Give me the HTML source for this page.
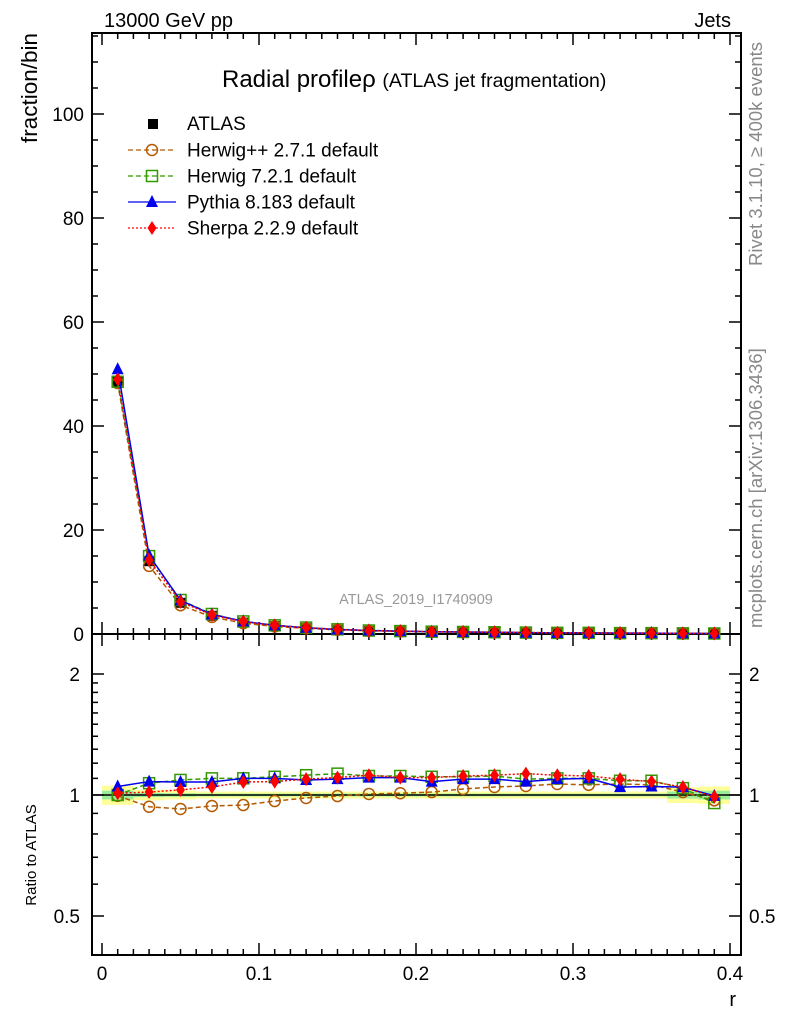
<!DOCTYPE html>
<html><head><meta charset="utf-8"><style>
body{margin:0;background:#fff;}
svg{display:block;font-family:"Liberation Sans",sans-serif;}
</style></head><body>
<svg id="c" width="786" height="1024" viewBox="0 0 786 1024" xmlns="http://www.w3.org/2000/svg"></svg>
<script>
const xs=[0.01,0.03,0.05,0.07,0.09,0.11,0.13,0.15,0.17,0.19,0.21,0.23,0.25,0.27,0.29,0.31,0.33,0.35,0.37,0.39];
const atlas=[48.5,14,6,3.5,2.2,1.5,1.1,0.8,0.6,0.5,0.4,0.35,0.3,0.25,0.2,0.2,0.15,0.15,0.12,0.1];
const bandY=[0.055,0.03,0.025,0.02,0.02,0.02,0.02,0.02,0.02,0.02,0.02,0.02,0.02,0.02,0.02,0.02,0.02,0.02,0.045,0.05];
const bandG=[0.025,0.012,0.01,0.008,0.008,0.008,0.008,0.008,0.008,0.008,0.008,0.008,0.008,0.008,0.008,0.008,0.008,0.008,0.02,0.025];
const rHpp=[0.995,0.935,0.923,0.939,0.944,0.966,0.983,0.994,1.006,1.01,1.017,1.035,1.047,1.053,1.065,1.06,1.065,1.06,1.017,0.97];
const rH7=[1.0,1.07,1.09,1.10,1.10,1.11,1.12,1.13,1.115,1.115,1.11,1.11,1.115,1.095,1.10,1.10,1.085,1.085,1.04,0.955];
const rPy=[1.05,1.08,1.077,1.077,1.10,1.10,1.09,1.095,1.105,1.105,1.08,1.095,1.095,1.08,1.095,1.10,1.046,1.05,1.046,0.995];
const rSh=[1.01,1.017,1.03,1.047,1.077,1.08,1.095,1.105,1.12,1.105,1.105,1.115,1.12,1.13,1.12,1.115,1.095,1.08,1.046,0.99];
const yTicks=[0,20,40,60,80,100];
const rTicks=[0.5,1,2];
const xTicks=[0,0.1,0.2,0.3,0.4];

const L=92,R=741,T=33,MB=634,RB=955;
const X=v=>102+v*1570;
const Y=v=>634-v*5.2;
const RY=v=>795-121*Math.log2(v);
const svg=document.getElementById('c');
const NS='http://www.w3.org/2000/svg';
function el(tag,attrs,parent,text){const e=document.createElementNS(NS,tag);for(const k in attrs)e.setAttribute(k,attrs[k]);if(text!==undefined)e.textContent=text;(parent||svg).appendChild(e);return e;}
function g(name){const e=el('g',{});return e;}

const bands=g('ratio-uncertainty-band');
xs.forEach((x,i)=>{
  el('rect',{x:X(x-0.01),y:RY(1+bandY[i]),width:X(0.02)-X(0),height:RY(1-bandY[i])-RY(1+bandY[i]),fill:'#ffff99'},bands);
  el('rect',{x:X(x-0.01),y:RY(1+bandG[i]),width:X(0.02)-X(0),height:RY(1-bandG[i])-RY(1+bandG[i]),fill:'#99ee99'},bands);
});
el('line',{x1:L,x2:R,y1:RY(1),y2:RY(1),stroke:'#000','stroke-width':1.5},bands);

const fr=g('plot-frames');
el('rect',{x:L,y:T,width:R-L,height:MB-T,fill:'none',stroke:'#000','stroke-width':2},fr);
el('rect',{x:L,y:MB,width:R-L,height:RB-MB,fill:'none',stroke:'#000','stroke-width':2},fr);

const ya=g('y-axis');
for(let v=0;v<=115;v+=5){const maj=v%20==0;const y=Y(v);
 el('line',{x1:L,x2:L+(maj?12:6),y1:y,y2:y,stroke:'#000','stroke-width':1.5},ya);
 el('line',{x1:R,x2:R-(maj?12:6),y1:y,y2:y,stroke:'#000','stroke-width':1.5},ya);}
yTicks.forEach(v=>{const t=el('text',{x:L-8,y:Y(v)+7,'text-anchor':'end','font-size':19},ya,String(v));});
const yt=el('text',{x:0,y:0,transform:'translate(37,33) rotate(-90)','text-anchor':'end','font-size':22.5},ya,'fraction/bin');


const ra=g('ratio-y-axis');
[0.4,0.5,0.6,0.7,0.8,0.9,1,1.1,1.2,1.3,1.4,1.5,1.6,1.7,1.8,1.9,2].forEach(v=>{const y=RY(v);if(y>RB||y<MB)return;const maj=[0.5,1,2].includes(v);
 el('line',{x1:L,x2:L+(maj?12:6),y1:y,y2:y,stroke:'#000','stroke-width':1.5},ra);
 el('line',{x1:R,x2:R-(maj?12:6),y1:y,y2:y,stroke:'#000','stroke-width':1.5},ra);});
rTicks.forEach(v=>{el('text',{x:L-12,y:RY(v)+7,'text-anchor':'end','font-size':19},ra,String(v));el('text',{x:R+8,y:RY(v)+7,'font-size':19},ra,String(v));});
const rt=el('text',{x:0,y:0,transform:'translate(36,855) rotate(-90)','text-anchor':'middle','font-size':15},ra,'Ratio to ATLAS');


const xa=g('x-axis');
for(let i=0;i<=40;i++){const v=i/100;const maj=i%10==0;const x=X(v);
 el('line',{x1:x,x2:x,y1:MB,y2:MB-(maj?12:6),stroke:'#000','stroke-width':1.5},xa);
 el('line',{x1:x,x2:x,y1:MB,y2:MB+(maj?12:6),stroke:'#000','stroke-width':1.5},xa);
 el('line',{x1:x,x2:x,y1:RB,y2:RB-(maj?12:6),stroke:'#000','stroke-width':1.5},xa);
 el('line',{x1:x,x2:x,y1:T,y2:T+(maj?12:6),stroke:'#000','stroke-width':1.5},xa);}
xTicks.forEach(v=>el('text',{x:X(v),y:980,'text-anchor':'middle','font-size':19},xa,String(v)));
const xt=el('text',{x:736,y:1006,'text-anchor':'end','font-size':20},xa,'r');


function marker(p,type,x,y,c){
 if(type=='sq')el('rect',{x:x-5,y:y-5,width:10,height:10,fill:'#000'},p);
 if(type=='circ')el('circle',{cx:x,cy:y,r:5.5,fill:'none',stroke:c,'stroke-width':1.5},p);
 if(type=='osq')el('rect',{x:x-5.5,y:y-5.5,width:11,height:11,fill:'none',stroke:c,'stroke-width':1.5},p);
 if(type=='tri')el('polygon',{points:`${x},${y-7} ${x-6},${y+5} ${x+6},${y+5}`,fill:c},p);
 if(type=='dia')el('polygon',{points:`${x},${y-7} ${x-4.5},${y} ${x},${y+7} ${x+4.5},${y}`,fill:c},p);
}
const series=[
 {n:'herwigpp',r:rHpp,c:'#b35900',m:'circ',d:'5,3',lab:'Herwig++ 2.7.1 default'},
 {n:'herwig7',r:rH7,c:'#339900',m:'osq',d:'5,3',lab:'Herwig 7.2.1 default'},
 {n:'pythia',r:rPy,c:'#0000ee',m:'tri',d:'',lab:'Pythia 8.183 default'},
 {n:'sherpa',r:rSh,c:'#ff0000',m:'dia',d:'2,2',lab:'Sherpa 2.2.9 default'}];
const data=g('series-atlas');
xs.forEach((x,i)=>marker(data,'sq',X(x),Y(atlas[i])));
series.forEach(s=>{
 const p=g('series-'+s.n);
 const pm=xs.map((x,i)=>X(x)+','+Y(atlas[i]*s.r[i])).join(' ');
 el('polyline',{points:pm,fill:'none',stroke:s.c,'stroke-width':1.5,'stroke-dasharray':s.d},p);
 xs.forEach((x,i)=>marker(p,s.m,X(x),Y(atlas[i]*s.r[i]),s.c));
 const q=g('ratio-'+s.n);
 const pr=xs.map((x,i)=>X(x)+','+RY(s.r[i])).join(' ');
 el('polyline',{points:pr,fill:'none',stroke:s.c,'stroke-width':1.5,'stroke-dasharray':s.d},q);
 xs.forEach((x,i)=>marker(q,s.m,X(x),RY(s.r[i]),s.c));
});

const lg=g('legend');
marker(lg,'sq',153,124);
el('text',{x:187,y:130,'font-size':19},lg,'ATLAS');
series.forEach((s,i)=>{const y=150+i*26;
 el('line',{x1:128,x2:176,y1:y,y2:y,stroke:s.c,'stroke-width':1.3,'stroke-dasharray':s.d},lg);
 marker(lg,s.m,152,y,s.c);
 el('text',{x:187,y:y+6.5,'font-size':19},lg,s.lab);});

const tt=g('titles');
el('text',{x:104,y:27,'font-size':20},tt,'13000 GeV pp');
el('text',{x:731,y:27,'text-anchor':'end','font-size':20},tt,'Jets');
const ti=el('text',{x:222,y:87,'font-size':24},tt,'Radial profile');
el('tspan',{'font-size':24},ti,'ρ ');
el('tspan',{'font-size':19.5},ti,'(ATLAS jet fragmentation)');
el('text',{x:416,y:604,'text-anchor':'middle','font-size':14.5,fill:'#999'},tt,'ATLAS_2019_I1740909');
el('text',{x:0,y:0,transform:'translate(762,266) rotate(-90)','font-size':18.5,fill:'#888'},tt,'Rivet 3.1.10, ≥ 400k events');
el('text',{x:0,y:0,transform:'translate(762,628) rotate(-90)','font-size':18.5,fill:'#888'},tt,'mcplots.cern.ch [arXiv:1306.3436]');
</script>
</body></html>
